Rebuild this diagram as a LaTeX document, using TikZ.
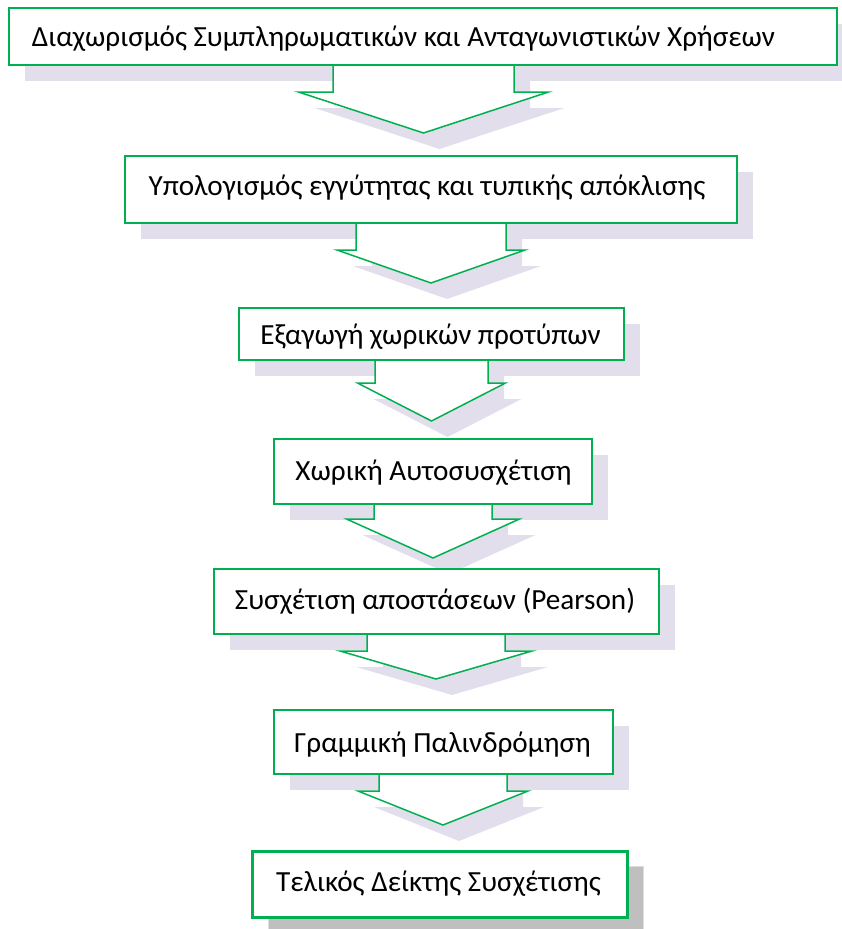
\documentclass[tikz,border=0pt]{standalone}
\usepackage{fontspec}
\setmainfont{Carlito}
\usetikzlibrary{calc}
\definecolor{grn}{RGB}{0,176,80}
\definecolor{shd}{RGB}{226,222,236}
\definecolor{gshd}{RGB}{191,191,191}
\definecolor{gedge}{RGB}{220,220,220}
\begin{document}
\begin{tikzpicture}[x=1pt,y=-1pt,
  box/.style={draw=grn, line width=1.5pt, fill=white, inner sep=0pt, outer sep=0pt},
  finalbox/.style={draw=grn, line width=3pt, fill=white, inner sep=0pt, outer sep=0pt},
  shadow/.style={fill=shd},
  finalshadow/.style={fill=gshd, draw=gedge, line width=1pt},
  blockarrow/.style={draw=grn, line width=1.5pt, fill=white, line join=miter},
  lbl/.style={font=\fontsize{29.2}{31}\selectfont, inner sep=0pt, anchor=base}]
\useasboundingbox (0,0) rectangle (841,929);
% shadows of boxes: left / top / right / bottom
\foreach \l/\t/\r/\b in {9/8/837/65, 125/156/737/223, 239/308/624/360, 274/439/592/504, 214/569/659/634, 274/710/613/774}
  \fill[shadow] ({\l+16},{\t+16}) rectangle ({\r+16},{\b+16});
\fill[finalshadow] (268,866) rectangle (643,935);
% shadows of block arrows: cx / shaft half / wing half / wing y / tip y / top
\foreach \cx/\sh/\wh/\wy/\ty/\tp in {423.5/90.5/125/92/133/55, 431/75/94/250/283/210, 431.5/56.5/74/383/421/350, 433/59/86.5/519/558/494, 436/69/96/651/679/624, 443/64/85/791/825/764}
  \fill[shadow] ({\cx-\sh+16},{\tp+16}) -- ({\cx-\sh+16},{\wy+16}) -- ({\cx-\wh+16},{\wy+16}) -- ({\cx+16},{\ty+16}) -- ({\cx+\wh+16},{\wy+16}) -- ({\cx+\sh+16},{\wy+16}) -- ({\cx+\sh+16},{\tp+16}) -- cycle;
% block arrows
\foreach \cx/\sh/\wh/\wy/\ty/\tp in {423.5/90.5/125/92/133/55, 431/75/94/250/283/210, 431.5/56.5/74/383/421/350, 433/59/86.5/519/558/494, 436/69/96/651/679/624, 443/64/85/791/825/764}
  \draw[blockarrow] ({\cx-\sh},\tp) -- ({\cx-\sh},\wy) -- ({\cx-\wh},\wy) -- (\cx,\ty) -- ({\cx+\wh},\wy) -- ({\cx+\sh},\wy) -- ({\cx+\sh},\tp) -- cycle;
% boxes
\node[box, minimum width=828pt, minimum height=57pt] (b1) at (423,36.5) {};
\node[box, minimum width=612pt, minimum height=67pt] (b2) at (431,189.5) {};
\node[box, minimum width=385pt, minimum height=52pt] (b3) at (431.5,334) {};
\node[box, minimum width=318pt, minimum height=65pt] (b4) at (433,471.5) {};
\node[box, minimum width=445pt, minimum height=65pt] (b5) at (436.5,601.5) {};
\node[box, minimum width=339pt, minimum height=64pt] (b6) at (443.5,742) {};
\node[finalbox, minimum width=375pt, minimum height=66pt] (b7) at (439.5,884) {};
% labels
\node[lbl] (t1) at (403.5,46.7) {Διαχωρισμός Συμπληρωματικών και Ανταγωνιστικών Χρήσεων};
\node[lbl] (t2) at (427,195) {Υπολογισμός εγγύτητας και τυπικής απόκλισης};
\node[lbl] (t3) at (430.5,344.3) {Εξαγωγή χωρικών προτύπων};
\node[lbl] (t4) at (433.5,480) {Χωρική Αυτοσυσχέτιση};
\node[lbl] (t5) at (435,609.3) {Συσχέτιση αποστάσεων (Pearson)};
\node[lbl] (t6) at (442.5,752.7) {Γραμμική Παλινδρόμηση};
\node[lbl] (t7) at (438.5,891.7) {Τελικός Δείκτης Συσχέτισης};
\end{tikzpicture}
\end{document}
